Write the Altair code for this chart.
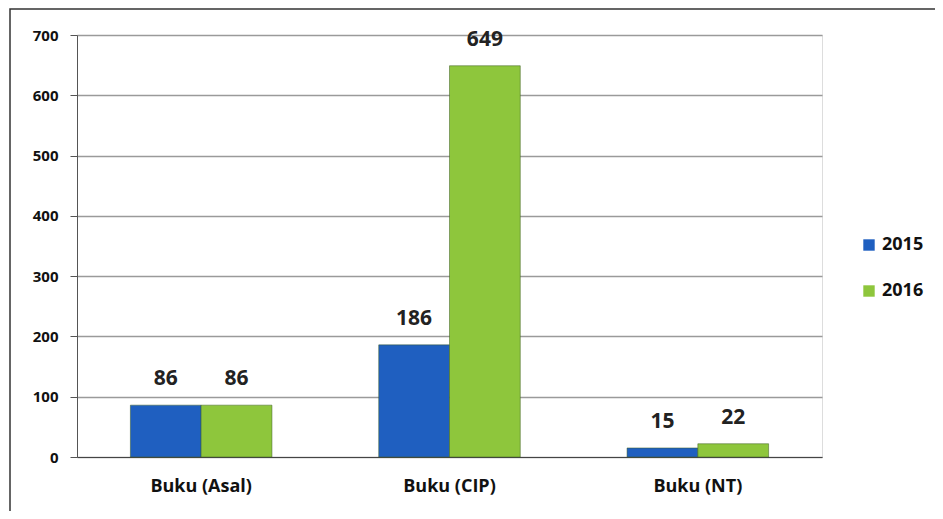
import altair as alt
import pandas as pd

categories = ["Buku (Asal)", "Buku (CIP)", "Buku (NT)"]
years = ["2015", "2016"]
values_2015 = [86, 186, 15]
values_2016 = [86, 649, 22]

rows = []
for c, a, b in zip(categories, values_2015, values_2016):
    rows.append({"cat": c, "year": "2015", "val": a})
    rows.append({"cat": c, "year": "2016", "val": b})
df = pd.DataFrame(rows)

FONT = "Open Sans"
colors = ["#1f5fc0", "#8ec63c"]

x = alt.X("cat:N", sort=categories, title=None,
          scale=alt.Scale(paddingInner=0.43, paddingOuter=0.215),
          axis=alt.Axis(labelAngle=0, labelFont=FONT, labelFontSize=18, labelFontWeight="bold",
                        labelColor="#111", ticks=False, domainColor="#444", labelPadding=20))
y = alt.Y("val:Q", title=None,
          scale=alt.Scale(domain=[0, 700], nice=False),
          axis=alt.Axis(values=list(range(0, 701, 100)), labelFont=FONT, labelFontSize=15,
                        labelFontWeight="bold", labelColor="#111", gridColor="#9a9a9a",
                        gridWidth=1.3, tickColor="#555", tickSize=7, domainColor="#555",
                        labelPadding=12))

base = alt.Chart(df)
bars = base.mark_bar(stroke="#3a5a20", strokeWidth=0.5).encode(
    x=x, y=y, xOffset=alt.XOffset("year:N", sort=years),
    color=alt.Color("year:N", sort=years, title=None,
                    scale=alt.Scale(domain=years, range=colors),
                    legend=alt.Legend(orient="none", legendX=783, legendY=201,
                                      symbolType="square", symbolSize=130,
                                      labelFont=FONT, labelFontSize=18, labelFontWeight="bold",
                                      labelColor="#111", rowPadding=28, symbolStrokeWidth=0))
)
labels = base.mark_text(dy=-26, font=FONT, fontSize=21, fontWeight="bold", color="#222").encode(
    x=alt.X("cat:N", sort=categories), y="val:Q",
    xOffset=alt.XOffset("year:N", sort=years), text="val:Q"
)
frame = alt.Chart(pd.DataFrame({"k": [0]})).mark_rect(
    fill=None, stroke="#333", strokeWidth=1.5
).encode(x=alt.value(-67), x2=alt.value(900), y=alt.value(-26), y2=alt.value(540))

chart = alt.layer(frame, bars, labels).properties(
    width=745, height=422,
    padding={"left": 69, "top": 27, "right": 113, "bottom": 54},
    autosize="none",
).configure_view(stroke=None).configure(background="white")

chart.save("out.html", embed_options={"renderer": "svg", "actions": False})
